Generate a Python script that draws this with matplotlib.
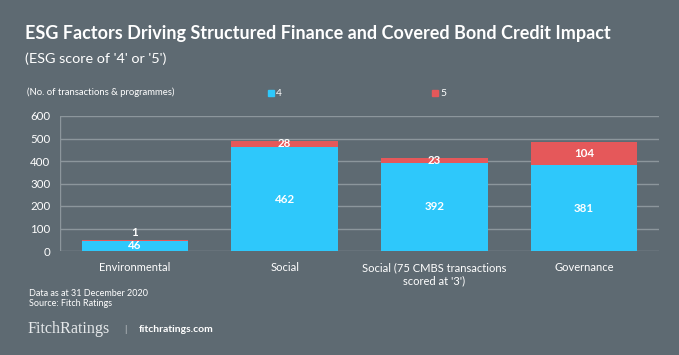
import matplotlib
matplotlib.use("Agg")
import matplotlib.pyplot as plt
from matplotlib.patches import Rectangle

categories = ["Environmental", "Social", "Social (75 CMBS transactions\nscored at '3')", "Governance"]
score4 = [46, 462, 392, 381]
score5 = [1, 28, 23, 104]
yticks = [0, 100, 200, 300, 400, 500, 600]

BG = "#5e6a72"
BLUE = "#2ec8fb"
RED = "#e5585a"
GRID = "#8c969c"
TXT = "#ffffff"
FONT = "Lato"

W, H = 679, 355
fig = plt.figure(figsize=(W/100, H/100), dpi=100, facecolor=BG)
ax = fig.add_axes([60/W, 1-251/H, (659-60)/W, (251-116)/H])
ax.set_facecolor(BG)

x = list(range(len(categories)))
width = 0.71
ax.bar(x, score4, width=width, color=BLUE, zorder=3)
ax.bar(x, score5, width=width, bottom=score4, color=RED, zorder=3)

for i, (a, b) in enumerate(zip(score4, score5)):
    ax.text(i, a/2, str(a), ha="center", va="center", color=TXT, fontsize=8.3, family=FONT, fontweight="bold", zorder=4)
    if b < 10:
        ax.text(i, a + b + 37, str(b), ha="center", va="center", color=TXT, fontsize=8.3, family=FONT, fontweight="bold", zorder=4)
    else:
        ax.text(i, a + b/2, str(b), ha="center", va="center", color=TXT, fontsize=8.3, family=FONT, fontweight="bold", zorder=4)

ax.set_xlim(-0.5, 3.5)
ax.set_ylim(0, 600)
ax.set_yticks(yticks)
ax.set_yticklabels([str(t) for t in yticks], color=TXT, fontsize=8.3, family=FONT)
ax.set_xticks(x)
ax.set_xticklabels(categories, color=TXT, fontsize=8, family=FONT, linespacing=1.25)
ax.tick_params(axis="x", length=0, pad=8)
ax.tick_params(axis="y", length=0, pad=7)
ax.grid(axis="y", color=GRID, linewidth=1, zorder=0)
for s in ax.spines.values():
    s.set_visible(False)
ax.axvline(-0.5, color=GRID, linewidth=1, zorder=1)

fig.text(25/W, 1-33/H, "ESG Factors Driving Structured Finance and Covered Bond Credit Impact",
         color=TXT, fontsize=13, family=FONT, fontweight="bold", va="center", ha="left")
fig.text(25/W, 1-59/H, "(ESG score of '4' or '5')", color=TXT, fontsize=10.4, family=FONT, va="center", ha="left")
fig.text(27/W, 1-92/H, "(No. of transactions & programmes)", color=TXT, fontsize=6.8, family=FONT, va="center", ha="left")

# legend
fig.patches.append(Rectangle((268/W, 1-96/H), 6/W, 6/H, color=BLUE, transform=fig.transFigure))
fig.text(276/W, 1-93/H, "4", color=TXT, fontsize=7.5, family=FONT, va="center", ha="left")
fig.patches.append(Rectangle((432/W, 1-96/H), 6/W, 6/H, color=RED, transform=fig.transFigure))
fig.text(440/W, 1-93/H, "5", color=TXT, fontsize=7.5, family=FONT, va="center", ha="left")

fig.text(29/W, 1-293/H, "Data as at 31 December 2020", color=TXT, fontsize=6.5, family=FONT, va="center", ha="left")
fig.text(29/W, 1-304/H, "Source: Fitch Ratings", color=TXT, fontsize=6.5, family=FONT, va="center", ha="left")
fig.text(27/W, 1-329/H, "FitchRatings", color="#e6e9eb", fontsize=11.6, family="Liberation Serif", va="center", ha="left")
fig.text(124/W, 1-329/H, "|", color="#c8cdd0", fontsize=7, family=FONT, va="center", ha="left")
fig.text(139/W, 1-329/H, "fitchratings.com", color=TXT, fontsize=7.5, family=FONT, fontweight="bold", va="center", ha="left")

fig.savefig("out.png", dpi=100, facecolor=BG)
